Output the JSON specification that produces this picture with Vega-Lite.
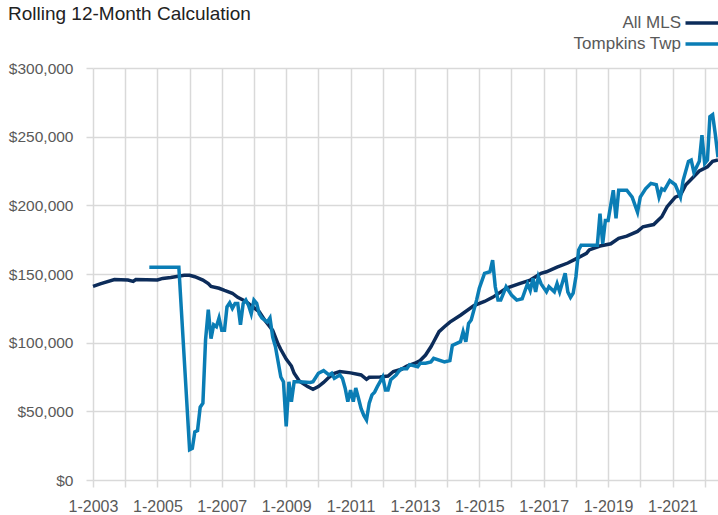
{
  "$schema": "https://vega.github.io/schema/vega-lite/v6.json",
  "width": 625,
  "height": 412,
  "autosize": "none",
  "padding": {"left": 93, "top": 68, "right": 0, "bottom": 35},
  "background": "white",
  "title": {"text": "Rolling 12-Month Calculation", "anchor": "start", "frame": "group", "dx": -85, "dy": 18, "font": "Liberation Sans", "fontSize": 19, "fontWeight": "normal", "color": "#222222"},
  "datasets": {
    "mls": [
      {"date": "2003-01-01", "value": 141000}, {"date": "2003-04-01", "value": 143000}, {"date": "2003-09-01", "value": 146000},
      {"date": "2004-02-01", "value": 145600}, {"date": "2004-04-01", "value": 144600}, {"date": "2004-05-01", "value": 146000},
      {"date": "2005-01-01", "value": 145600}, {"date": "2005-03-01", "value": 146800}, {"date": "2005-06-01", "value": 147500},
      {"date": "2005-11-01", "value": 149000}, {"date": "2006-01-01", "value": 149000}, {"date": "2006-03-01", "value": 148000},
      {"date": "2006-06-01", "value": 145600}, {"date": "2006-08-01", "value": 143000}, {"date": "2006-09-01", "value": 141000},
      {"date": "2006-12-01", "value": 139600}, {"date": "2007-02-01", "value": 138000}, {"date": "2007-05-01", "value": 136000},
      {"date": "2007-07-01", "value": 133000}, {"date": "2007-10-01", "value": 130000}, {"date": "2007-12-01", "value": 127000},
      {"date": "2008-03-01", "value": 122500}, {"date": "2008-05-01", "value": 116500}, {"date": "2008-08-01", "value": 109000},
      {"date": "2008-10-01", "value": 99000}, {"date": "2008-11-01", "value": 95000}, {"date": "2009-01-01", "value": 88000},
      {"date": "2009-03-01", "value": 83000}, {"date": "2009-04-01", "value": 77700}, {"date": "2009-06-01", "value": 72000},
      {"date": "2009-09-01", "value": 68000}, {"date": "2009-11-01", "value": 66000}, {"date": "2010-01-01", "value": 68000},
      {"date": "2010-03-01", "value": 71000}, {"date": "2010-05-01", "value": 74800}, {"date": "2010-07-01", "value": 77700},
      {"date": "2010-09-01", "value": 79000}, {"date": "2011-01-01", "value": 78000}, {"date": "2011-05-01", "value": 76500},
      {"date": "2011-07-01", "value": 73300}, {"date": "2011-08-01", "value": 74800}, {"date": "2011-12-01", "value": 75000},
      {"date": "2012-03-01", "value": 75700}, {"date": "2012-05-01", "value": 79000}, {"date": "2012-08-01", "value": 80600},
      {"date": "2012-10-01", "value": 83000}, {"date": "2013-01-01", "value": 85000}, {"date": "2013-03-01", "value": 87000},
      {"date": "2013-05-01", "value": 91000}, {"date": "2013-07-01", "value": 97000}, {"date": "2013-08-01", "value": 100700},
      {"date": "2013-10-01", "value": 108000}, {"date": "2013-12-01", "value": 111600}, {"date": "2014-02-01", "value": 115000},
      {"date": "2014-06-01", "value": 120000}, {"date": "2014-11-01", "value": 127000}, {"date": "2015-03-01", "value": 130000},
      {"date": "2015-06-01", "value": 133000}, {"date": "2015-11-01", "value": 139600}, {"date": "2016-04-01", "value": 143000},
      {"date": "2016-08-01", "value": 145600}, {"date": "2016-12-01", "value": 150500}, {"date": "2017-02-01", "value": 151600},
      {"date": "2017-06-01", "value": 155000}, {"date": "2017-10-01", "value": 158000}, {"date": "2018-01-01", "value": 161000},
      {"date": "2018-05-01", "value": 165000}, {"date": "2018-06-01", "value": 167500}, {"date": "2018-10-01", "value": 170400},
      {"date": "2019-02-01", "value": 172000}, {"date": "2019-05-01", "value": 176000}, {"date": "2019-08-01", "value": 177600},
      {"date": "2019-12-01", "value": 181000}, {"date": "2020-02-01", "value": 184400}, {"date": "2020-06-01", "value": 186000},
      {"date": "2020-09-01", "value": 191700}, {"date": "2020-11-01", "value": 199000}, {"date": "2021-02-01", "value": 206000},
      {"date": "2021-04-01", "value": 207500}, {"date": "2021-06-01", "value": 215000}, {"date": "2021-09-01", "value": 221000},
      {"date": "2021-11-01", "value": 225000}, {"date": "2022-02-01", "value": 228000}, {"date": "2022-04-01", "value": 232000},
      {"date": "2022-06-01", "value": 233000}
    ],
    "twp": [
      {"date": "2004-10-01", "value": 155000}, {"date": "2005-09-01", "value": 155000}, {"date": "2006-01-01", "value": 22000},
      {"date": "2006-02-01", "value": 23000}, {"date": "2006-03-01", "value": 35000}, {"date": "2006-04-01", "value": 36000},
      {"date": "2006-05-01", "value": 53000}, {"date": "2006-06-01", "value": 56000}, {"date": "2006-07-01", "value": 102000},
      {"date": "2006-08-01", "value": 124000}, {"date": "2006-09-01", "value": 103000}, {"date": "2006-10-01", "value": 113000},
      {"date": "2006-11-01", "value": 111600}, {"date": "2006-12-01", "value": 118000}, {"date": "2007-01-01", "value": 109000},
      {"date": "2007-02-01", "value": 109000}, {"date": "2007-03-01", "value": 126000}, {"date": "2007-04-01", "value": 129000},
      {"date": "2007-05-01", "value": 125000}, {"date": "2007-06-01", "value": 128600}, {"date": "2007-07-01", "value": 128600},
      {"date": "2007-08-01", "value": 113000}, {"date": "2007-09-01", "value": 128600}, {"date": "2007-10-01", "value": 131000},
      {"date": "2007-11-01", "value": 127000}, {"date": "2007-12-01", "value": 121000}, {"date": "2008-01-01", "value": 131000},
      {"date": "2008-02-01", "value": 128600}, {"date": "2008-03-01", "value": 121000}, {"date": "2008-04-01", "value": 118000},
      {"date": "2008-06-01", "value": 115000}, {"date": "2008-07-01", "value": 118000}, {"date": "2008-08-01", "value": 104000},
      {"date": "2008-09-01", "value": 97000}, {"date": "2008-11-01", "value": 75000}, {"date": "2008-12-01", "value": 71500},
      {"date": "2009-01-01", "value": 39000}, {"date": "2009-02-01", "value": 71500}, {"date": "2009-03-01", "value": 57000},
      {"date": "2009-04-01", "value": 71500}, {"date": "2009-06-01", "value": 71500}, {"date": "2009-10-01", "value": 71000},
      {"date": "2009-11-01", "value": 71500}, {"date": "2010-01-01", "value": 77700}, {"date": "2010-03-01", "value": 79600},
      {"date": "2010-05-01", "value": 76500}, {"date": "2010-06-01", "value": 77700}, {"date": "2010-07-01", "value": 74000},
      {"date": "2010-09-01", "value": 76500}, {"date": "2010-10-01", "value": 74000}, {"date": "2010-11-01", "value": 66800},
      {"date": "2010-12-01", "value": 57000}, {"date": "2011-01-01", "value": 65500}, {"date": "2011-02-01", "value": 57000},
      {"date": "2011-03-01", "value": 67000}, {"date": "2011-04-01", "value": 59500}, {"date": "2011-05-01", "value": 52000},
      {"date": "2011-06-01", "value": 47000}, {"date": "2011-07-01", "value": 43700}, {"date": "2011-08-01", "value": 56000},
      {"date": "2011-09-01", "value": 62000}, {"date": "2011-10-01", "value": 64000}, {"date": "2011-11-01", "value": 68000},
      {"date": "2011-12-01", "value": 71500}, {"date": "2012-01-01", "value": 75000}, {"date": "2012-02-01", "value": 65500},
      {"date": "2012-03-01", "value": 65500}, {"date": "2012-04-01", "value": 73000}, {"date": "2012-06-01", "value": 76500},
      {"date": "2012-07-01", "value": 79000}, {"date": "2012-08-01", "value": 81000}, {"date": "2012-10-01", "value": 81000},
      {"date": "2012-11-01", "value": 84000}, {"date": "2013-02-01", "value": 82500}, {"date": "2013-03-01", "value": 85000},
      {"date": "2013-05-01", "value": 85000}, {"date": "2013-07-01", "value": 86000}, {"date": "2013-08-01", "value": 88600},
      {"date": "2013-12-01", "value": 86000}, {"date": "2014-02-01", "value": 87000}, {"date": "2014-03-01", "value": 98000},
      {"date": "2014-06-01", "value": 100700}, {"date": "2014-07-01", "value": 108000}, {"date": "2014-08-01", "value": 100700},
      {"date": "2014-09-01", "value": 114000}, {"date": "2014-10-01", "value": 116500}, {"date": "2014-12-01", "value": 131000},
      {"date": "2015-01-01", "value": 139600}, {"date": "2015-03-01", "value": 150500}, {"date": "2015-05-01", "value": 151600},
      {"date": "2015-06-01", "value": 160000}, {"date": "2015-07-01", "value": 140700}, {"date": "2015-08-01", "value": 131000},
      {"date": "2015-09-01", "value": 131000}, {"date": "2015-11-01", "value": 140700}, {"date": "2016-01-01", "value": 134700},
      {"date": "2016-03-01", "value": 131000}, {"date": "2016-05-01", "value": 132000}, {"date": "2016-07-01", "value": 143000},
      {"date": "2016-08-01", "value": 138000}, {"date": "2016-09-01", "value": 146800}, {"date": "2016-10-01", "value": 137000},
      {"date": "2016-11-01", "value": 148000}, {"date": "2016-12-01", "value": 143000}, {"date": "2017-02-01", "value": 137000},
      {"date": "2017-03-01", "value": 140700}, {"date": "2017-05-01", "value": 137000}, {"date": "2017-06-01", "value": 143000},
      {"date": "2017-07-01", "value": 137000}, {"date": "2017-09-01", "value": 150500}, {"date": "2017-10-01", "value": 137000},
      {"date": "2017-11-01", "value": 133000}, {"date": "2017-12-01", "value": 136000}, {"date": "2018-01-01", "value": 148000},
      {"date": "2018-02-01", "value": 167500}, {"date": "2018-03-01", "value": 171000}, {"date": "2018-09-01", "value": 171000},
      {"date": "2018-10-01", "value": 194000}, {"date": "2018-11-01", "value": 172000}, {"date": "2018-12-01", "value": 189000},
      {"date": "2019-01-01", "value": 189000}, {"date": "2019-03-01", "value": 211000}, {"date": "2019-04-01", "value": 190500},
      {"date": "2019-05-01", "value": 211000}, {"date": "2019-08-01", "value": 211000}, {"date": "2019-10-01", "value": 206000},
      {"date": "2019-12-01", "value": 195000}, {"date": "2020-01-01", "value": 206000}, {"date": "2020-03-01", "value": 212000},
      {"date": "2020-05-01", "value": 216000}, {"date": "2020-07-01", "value": 215000}, {"date": "2020-08-01", "value": 206000},
      {"date": "2020-09-01", "value": 212000}, {"date": "2020-10-01", "value": 211000}, {"date": "2020-12-01", "value": 218000},
      {"date": "2021-02-01", "value": 215000}, {"date": "2021-04-01", "value": 206000}, {"date": "2021-05-01", "value": 218000},
      {"date": "2021-07-01", "value": 232000}, {"date": "2021-08-01", "value": 233000}, {"date": "2021-09-01", "value": 224000},
      {"date": "2021-11-01", "value": 232000}, {"date": "2021-12-01", "value": 251000}, {"date": "2022-01-01", "value": 230500},
      {"date": "2022-02-01", "value": 233000}, {"date": "2022-03-01", "value": 264500}, {"date": "2022-04-01", "value": 266000},
      {"date": "2022-05-01", "value": 252000}, {"date": "2022-06-01", "value": 235000}
    ]
  },
  "encoding": {
    "x": {
      "field": "date", "type": "temporal",
      "scale": {"type": "utc", "domain": [{"year": 2003, "month": 1, "date": 1, "utc": true}, {"year": 2022, "month": 6, "date": 1, "utc": true}]},
      "axis": {
        "title": null,
        "values": [
          {"year": 2003, "utc": true}, {"year": 2004, "utc": true}, {"year": 2005, "utc": true}, {"year": 2006, "utc": true},
          {"year": 2007, "utc": true}, {"year": 2008, "utc": true}, {"year": 2009, "utc": true}, {"year": 2010, "utc": true},
          {"year": 2011, "utc": true}, {"year": 2012, "utc": true}, {"year": 2013, "utc": true}, {"year": 2014, "utc": true},
          {"year": 2015, "utc": true}, {"year": 2016, "utc": true}, {"year": 2017, "utc": true}, {"year": 2018, "utc": true},
          {"year": 2019, "utc": true}, {"year": 2020, "utc": true}, {"year": 2021, "utc": true}, {"year": 2022, "utc": true}
        ],
        "labelExpr": "utcyear(datum.value) % 2 == 1 ? '1-' + utcyear(datum.value) : ''",
        "labelFont": "Liberation Sans", "labelFontSize": 16, "labelColor": "#595959",
        "labelPadding": 11, "labelFlush": false, "labelOverlap": false,
        "tickColor": "#d9d9d9", "tickSize": 7, "tickWidth": 1.5,
        "gridColor": "#d9d9d9", "gridWidth": 1.5, "domain": false
      }
    },
    "y": {
      "field": "value", "type": "quantitative",
      "scale": {"domain": [0, 300000], "nice": false},
      "axis": {
        "title": null,
        "values": [0, 50000, 100000, 150000, 200000, 250000, 300000],
        "format": "$,.0f",
        "labelFont": "Liberation Sans", "labelFontSize": 15.5, "labelColor": "#595959",
        "labelPadding": 13,
        "tickColor": "#d9d9d9", "tickSize": 7, "tickWidth": 1.5,
        "gridColor": "#d9d9d9", "gridWidth": 1.5, "domain": false
      }
    },
    "color": {
      "type": "nominal",
      "scale": {"domain": ["All MLS", "Tompkins Twp"], "range": ["#0c2c5a", "#0a7db5"]},
      "legend": {
        "title": null, "orient": "none", "legendX": 596, "legendY": -58, "direction": "vertical",
        "symbolType": "M-1.5,0H1.5", "symbolSize": 484, "symbolStrokeWidth": 3.5, "symbolFillColor": "transparent",
        "labelAlign": "right", "labelOffset": -34,
        "labelFont": "Liberation Sans", "labelFontSize": 17, "labelColor": "#595959",
        "rowPadding": 0
      }
    }
  },
  "layer": [
    {
      "data": {"name": "mls"},
      "mark": {"type": "line", "strokeWidth": 3.5},
      "encoding": {"color": {"datum": "All MLS"}}
    },
    {
      "data": {"name": "twp"},
      "mark": {"type": "line", "strokeWidth": 3.5},
      "encoding": {"color": {"datum": "Tompkins Twp"}}
    }
  ],
  "config": {"view": {"stroke": null}}
}
